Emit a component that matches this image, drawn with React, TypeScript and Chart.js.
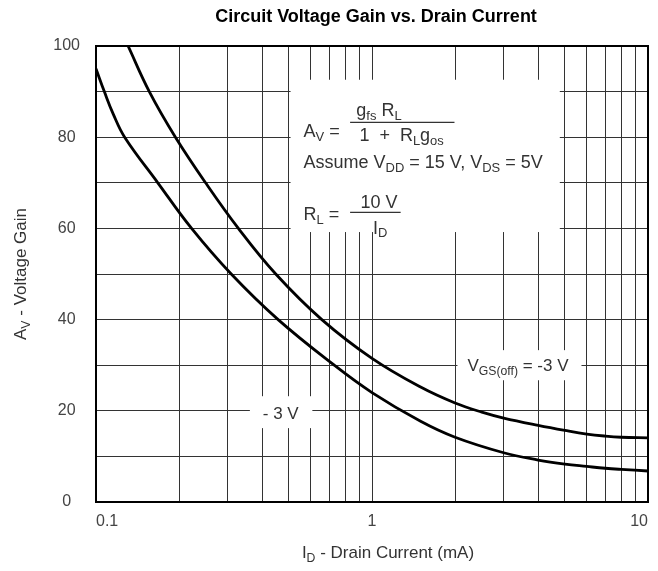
import React, { useEffect, useRef } from "react";
import { Chart, registerables } from "chart.js";

Chart.register(...registerables);

// ---- data ----
const UPPER_X = [0.1307, 0.156, 0.194, 0.2495, 0.328, 0.448, 0.658, 1.0, 1.5, 2, 2.5, 3, 4, 5, 6, 7, 8, 10];
const UPPER_Y = [100, 90, 80, 70, 60, 50, 40, 31.5, 25.2, 21.7, 19.7, 18.4, 16.8, 15.7, 14.9, 14.45, 14.2, 14.05];
const LOWER_X = [0.1, 0.1072, 0.1156, 0.127, 0.1675, 0.222, 0.309, 0.457, 0.73, 1.0, 1.5, 2, 3, 4, 5, 6, 7, 8, 10];
const LOWER_Y = [95, 90, 85, 80, 70, 60, 50, 40, 30, 24, 17.7, 14.2, 10.8, 9.2, 8.3, 7.8, 7.4, 7.15, 6.8];

const X_GRID = [0.1, 0.2, 0.3, 0.4, 0.5, 0.6, 0.7, 0.8, 0.9, 1, 2, 3, 4, 5, 6, 7, 8, 9, 10];
const X_TICK_VALUES = [0.1, 1, 10];
const X_TICK_LABELS = ["0.1", "1", "10"];
const Y_GRID = [0, 10, 20, 30, 40, 50, 60, 70, 80, 90, 100];
const Y_TICK_VALUES = [0, 20, 40, 60, 80, 100];
const Y_TICK_LABELS = ["0", "20", "40", "60", "80", "100"];

const TITLE = "Circuit Voltage Gain vs. Drain Current";
const FAMILY = '"Liberation Sans", Arial, sans-serif';

type Run = { t: string; sub?: boolean };

function runFont(size: number, sub?: boolean) {
  return `${sub ? size * 0.72 : size}px ${FAMILY}`;
}
function richWidth(ctx: CanvasRenderingContext2D, runs: Run[], size: number) {
  let w = 0;
  for (const r of runs) {
    ctx.font = runFont(size, r.sub);
    w += ctx.measureText(r.t).width;
  }
  return w;
}
function drawRich(
  ctx: CanvasRenderingContext2D,
  runs: Run[],
  x: number,
  yMid: number,
  size: number,
  align: "left" | "center",
  color: string
) {
  const w = richWidth(ctx, runs, size);
  let cx = align === "center" ? x - w / 2 : x;
  const base = yMid + size * 0.36;
  ctx.save();
  ctx.fillStyle = color;
  ctx.textAlign = "left";
  ctx.textBaseline = "alphabetic";
  for (const r of runs) {
    ctx.font = runFont(size, r.sub);
    ctx.fillText(r.t, cx, r.sub ? base + size * 0.22 : base);
    cx += ctx.measureText(r.t).width;
  }
  ctx.restore();
}

const near = (a: number, b: number) => Math.abs(a - b) < 1e-9 * Math.max(1, Math.abs(b));

const annotationPlugin = {
  id: "annotations",
  beforeDraw(chart: any) {
    const ctx = chart.ctx as CanvasRenderingContext2D;
    ctx.save();
    ctx.fillStyle = "#fff";
    ctx.fillRect(0, 0, chart.width, chart.height);
    ctx.restore();
  },
  beforeDatasetsDraw(chart: any) {
    const ctx = chart.ctx as CanvasRenderingContext2D;
    const xs = chart.scales.x;
    const ys = chart.scales.y;
    const X = (v: number) => xs.getPixelForValue(v);
    const Y = (v: number) => ys.getPixelForValue(v);
    const box = (x0: number, x1: number, y0: number, y1: number) => {
      ctx.fillStyle = "#fff";
      ctx.fillRect(X(x0), Y(y0), X(x1) - X(x0), Y(y1) - Y(y0));
    };
    ctx.save();
    box(0.507, 4.79, 92.6, 59.2);
    box(0.361, 0.608, 23.2, 16.2);
    box(2.04, 5.74, 33.3, 26.7);

    const S = 18;
    const C = "#333";
    drawRich(ctx, [{ t: "A" }, { t: "V", sub: true }, { t: " =" }], X(0.565), Y(81.4), S, "left", C);
    drawRich(ctx, [{ t: "g" }, { t: "fs", sub: true }, { t: " R" }, { t: "L", sub: true }], X(1.06), Y(86), S, "center", C);
    drawRich(ctx, [{ t: "1  +  R" }, { t: "L", sub: true }, { t: "g" }, { t: "os", sub: true }], X(1.28), Y(80.5), S, "center", C);
    ctx.strokeStyle = C;
    ctx.lineWidth = 1.2;
    ctx.beginPath();
    ctx.moveTo(X(0.833), Y(83.25));
    ctx.lineTo(X(1.99), Y(83.25));
    ctx.stroke();
    drawRich(
      ctx,
      [{ t: "Assume V" }, { t: "DD", sub: true }, { t: " = 15 V, V" }, { t: "DS", sub: true }, { t: " = 5V" }],
      X(0.565), Y(74.6), S, "left", C
    );
    drawRich(ctx, [{ t: "R" }, { t: "L", sub: true }, { t: " =" }], X(0.565), Y(63.2), S, "left", C);
    drawRich(ctx, [{ t: "10 V" }], X(1.06), Y(66), S, "center", C);
    ctx.beginPath();
    ctx.moveTo(X(0.833), Y(63.5));
    ctx.lineTo(X(1.27), Y(63.5));
    ctx.stroke();
    drawRich(ctx, [{ t: "I" }, { t: "D", sub: true }], X(1.07), Y(60.3), S, "center", C);

    drawRich(ctx, [{ t: "- 3 V" }], X(0.467), Y(19.45), 17, "center", C);
    drawRich(ctx, [{ t: "V" }, { t: "GS(off)", sub: true }, { t: " = -3 V" }], X(3.38), Y(30), 17, "center", C);
    ctx.restore();
  },
  afterDatasetsDraw(chart: any) {
    const ctx = chart.ctx as CanvasRenderingContext2D;
    const a = chart.chartArea;
    ctx.save();
    ctx.strokeStyle = "#000";
    ctx.lineWidth = 2;
    ctx.strokeRect(a.left, a.top, a.right - a.left, a.bottom - a.top);
    ctx.restore();
  },
  afterDraw(chart: any) {
    const ctx = chart.ctx as CanvasRenderingContext2D;
    const a = chart.chartArea;
    ctx.save();
    ctx.fillStyle = "#000";
    ctx.font = `bold 18px ${FAMILY}`;
    ctx.textAlign = "center";
    ctx.textBaseline = "middle";
    ctx.fillText(TITLE, 376, 17);
    ctx.restore();

    drawRich(
      ctx,
      [{ t: "I" }, { t: "D", sub: true }, { t: " - Drain Current (mA)" }],
      388, 552, 17, "center", "#333"
    );

    ctx.save();
    ctx.translate(20, (a.top + a.bottom) / 2);
    ctx.rotate(-Math.PI / 2);
    drawRich(ctx, [{ t: "A" }, { t: "V", sub: true }, { t: " - Voltage Gain" }], 0, 0, 17, "center", "#333");
    ctx.restore();
  },
};

export default function App() {
  const ref = useRef<HTMLCanvasElement | null>(null);
  useEffect(() => {
    document.body.style.margin = "0";
    const canvas = ref.current;
    if (!canvas) return;
    const lineStyle = {
      borderColor: "#000",
      borderWidth: 2.8,
      pointRadius: 0,
      fill: false,
      tension: 0.4,
    };
    const chart = new Chart(canvas, {
      type: "line",
      data: {
        datasets: [
          { label: "upper", data: UPPER_X.map((x, i) => ({ x, y: UPPER_Y[i] })), ...lineStyle },
          { label: "lower", data: LOWER_X.map((x, i) => ({ x, y: LOWER_Y[i] })), ...lineStyle },
        ],
      },
      options: {
        animation: false,
        responsive: false,
        devicePixelRatio: 1,
        layout: { padding: { left: 0, right: 6, top: 46, bottom: 0 } },
        plugins: {
          legend: { display: false },
          tooltip: { enabled: false },
          title: { display: false },
        },
        scales: {
          x: {
            type: "logarithmic",
            min: 0.1,
            max: 10,
            afterBuildTicks: (s: any) => {
              s.ticks = X_GRID.map((v) => ({ value: v }));
            },
            afterFit: (s: any) => {
              s.height = 69;
            },
            ticks: {
              autoSkip: false,
              maxRotation: 0,
              minRotation: 0,
              align: "inner",
              padding: 10,
              color: "#444",
              font: { family: FAMILY, size: 16 },
              callback: (v: any) => {
                const i = X_TICK_VALUES.findIndex((t) => near(Number(v), t));
                return i >= 0 ? X_TICK_LABELS[i] : "";
              },
            },
            grid: { color: "#333", lineWidth: 1, drawTicks: false },
            border: { display: false },
          },
          y: {
            type: "linear",
            min: 0,
            max: 100,
            afterBuildTicks: (s: any) => {
              s.ticks = Y_GRID.map((v) => ({ value: v }));
            },
            afterFit: (s: any) => {
              s.width = 96;
            },
            ticks: {
              autoSkip: false,
              crossAlign: "center",
              padding: 16,
              color: "#444",
              font: { family: FAMILY, size: 16 },
              callback: (v: any) => {
                const i = Y_TICK_VALUES.findIndex((t) => near(Number(v), t));
                return i >= 0 ? Y_TICK_LABELS[i] : "";
              },
            },
            grid: { color: "#333", lineWidth: 1, drawTicks: false },
            border: { display: false },
          },
        },
      } as any,
      plugins: [annotationPlugin],
    });
    return () => chart.destroy();
  }, []);
  return (
    <div style={{ width: 658, height: 571 }}>
      <canvas ref={ref} width={658} height={571} style={{ display: "block" }} />
    </div>
  );
}
